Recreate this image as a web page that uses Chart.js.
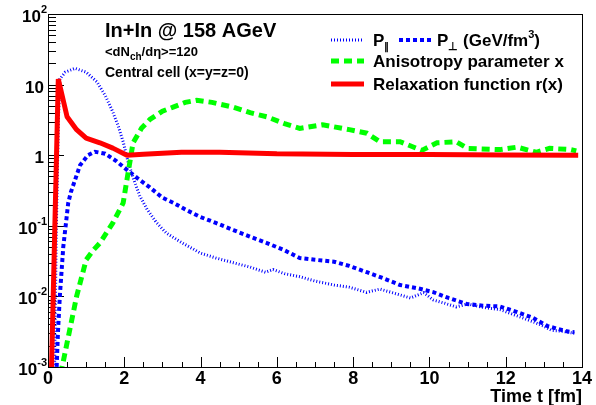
<!DOCTYPE html>
<html>
<head>
<meta charset="utf-8">
<script src="https://cdn.jsdelivr.net/npm/chart.js@4/dist/chart.umd.min.js"></script>
<style>
  html, body { margin: 0; padding: 0; background: #fff; }
  #wrap { width: 596px; height: 405px; }
</style>
</head>
<body>
<div id="wrap"><canvas id="chart" width="596" height="405"></canvas></div>
<script>
// ---- data (time t in fm) ----
const tPar = [0.17, 0.22, 0.27, 0.31, 0.45, 0.71, 1.0, 1.28, 1.5, 1.7, 1.85, 1.97, 2.1, 2.25, 2.4, 2.6, 2.85, 3.1, 3.5, 4.0, 4.4, 4.86, 5.3, 5.7, 5.9, 6.2, 6.6, 7.0, 7.5, 7.9, 8.35, 8.7, 9.1, 9.5, 9.85, 10.1, 10.4, 10.7, 11.0, 11.4, 11.85, 12.3, 12.7, 13.0, 13.2, 13.5, 13.8]
const pPar = [0.0008, 0.1, 3, 12, 15, 17, 15, 11, 7, 4.1, 2.5, 1.55, 0.8, 0.45, 0.27, 0.17, 0.11, 0.079, 0.058, 0.041, 0.035, 0.030, 0.026, 0.022, 0.024, 0.021, 0.019, 0.0165, 0.0145, 0.0135, 0.0114, 0.0127, 0.011, 0.0095, 0.0113, 0.0089, 0.008, 0.0071, 0.0078, 0.007, 0.0065, 0.0053, 0.0044, 0.0038, 0.0033, 0.0032, 0.0030]

const tPerp = [0.22, 0.26, 0.31, 0.4, 0.53, 0.6, 0.84, 1.05, 1.23, 1.5, 1.8, 2.07, 2.35, 2.67, 3.0, 3.3, 3.6, 4.0, 4.4, 4.86, 5.3, 5.74, 6.2, 6.6, 7.0, 7.5, 7.9, 8.36, 8.8, 9.23, 9.7, 10.1, 10.5, 10.98, 11.4, 11.85, 12.3, 12.7, 13.1, 13.6, 13.8]
const pPerp = [0.0008, 0.003, 0.01, 0.05, 0.21, 0.3, 0.72, 1.0, 1.12, 1.05, 0.82, 0.62, 0.47, 0.35, 0.25, 0.21, 0.17, 0.133, 0.11, 0.087, 0.07, 0.057, 0.045, 0.035, 0.033, 0.031, 0.027, 0.022, 0.018, 0.0145, 0.013, 0.0115, 0.0095, 0.0078, 0.0074, 0.0072, 0.006, 0.005, 0.0038, 0.0032, 0.0031]

const tAniso = [0.33, 0.4, 0.5, 0.75, 1.0, 1.2, 1.36, 1.7, 1.97, 2.07, 2.23, 2.45, 2.67, 3.0, 3.28, 3.6, 3.9, 4.3, 4.85, 5.3, 5.74, 6.2, 6.6, 7.2, 7.9, 8.36, 8.7, 9.23, 9.8, 10.2, 10.7, 11.0, 11.85, 12.3, 12.8, 13.15, 13.7, 13.85]
const aniso = [0.0008, 0.0012, 0.0022, 0.01, 0.033, 0.046, 0.057, 0.11, 0.21, 0.45, 1.5, 2.4, 3.2, 4.2, 4.8, 5.6, 6.0, 5.6, 4.8, 4.0, 3.5, 2.8, 2.4, 2.7, 2.3, 2.05, 1.55, 1.55, 1.17, 1.5, 1.55, 1.25, 1.2, 1.3, 1.1, 1.25, 1.2, 1.15]

const tRelax = [0.08, 0.27, 0.5, 0.75, 1.0, 1.36, 1.7, 2.07, 2.5, 3.5, 4.5, 6.0, 8.0, 10.0, 12.0, 13.9]
const relax = [0.0005, 12, 3.5, 2.3, 1.74, 1.5, 1.26, 1.0, 1.03, 1.1, 1.1, 1.05, 1.02, 1.02, 1.01, 1.0]

const xTicks = [0, 2, 4, 6, 8, 10, 12, 14]
const yDecades = [-3, -2, -1, 0, 1, 2]

const FONT = '"Liberation Sans", Arial, Helvetica, sans-serif'

const toPoints = (xs, ys) => xs.map((x, i) => ({ x: x, y: ys[i] }))

// ---- helper: text pieces with sub/superscripts ----
const drawRich = (ctx, x, y, parts) => {
  parts.forEach((p) => {
    ctx.font = 'bold ' + p.size + 'px ' + FONT
    ctx.fillText(p.text, x, y + (p.dy || 0))
    x += ctx.measureText(p.text).width
  })
  return x
}

/********** FRAME, TICKS, LABELS **********/
const rootStyle = {
  id: 'rootStyle',
  beforeDatasetsDraw: (chart) => {
    const ctx = chart.ctx
    const a = chart.chartArea
    const xs = chart.scales.x
    const ys = chart.scales.y
    ctx.save()
    ctx.strokeStyle = '#000'
    ctx.lineWidth = 1
    ctx.strokeRect(Math.round(a.left) + 0.5, Math.round(a.top) + 0.5, Math.round(a.right - a.left), Math.round(a.bottom - a.top))
    ctx.beginPath()
    for (let v = 0; v <= 14.001; v += 0.5) {
      const px = Math.round(xs.getPixelForValue(v)) + 0.5
      const len = (Math.abs(v % 2) < 0.01) ? 10 : 5
      ctx.moveTo(px, a.bottom)
      ctx.lineTo(px, a.bottom - len)
    }
    yDecades.forEach((d) => {
      for (let m = 1; m <= 9; m++) {
        const v = m * Math.pow(10, d)
        if (v > 100.001) continue
        const py = Math.round(ys.getPixelForValue(v)) + 0.5
        const len = m === 1 ? 16 : 8
        ctx.moveTo(a.left, py)
        ctx.lineTo(a.left + len, py)
      }
    })
    ctx.stroke()
    ctx.restore()
  },
  afterDraw: (chart) => {
    const ctx = chart.ctx
    const a = chart.chartArea
    const xs = chart.scales.x
    const ys = chart.scales.y
    ctx.save()
    ctx.fillStyle = '#000'
    ctx.textBaseline = 'alphabetic'

    // x tick labels
    ctx.font = 'bold 18px ' + FONT
    ctx.textAlign = 'center'
    xTicks.forEach((v) => {
      ctx.fillText(String(v), xs.getPixelForValue(v), 384)
    })
    ctx.textAlign = 'right'
    ctx.fillText('Time t [fm]', a.right, 402)

    // y tick labels
    ctx.textAlign = 'left'
    yDecades.forEach((d) => {
      const py = ys.getPixelForValue(Math.pow(10, d))
      const base = py + 8
      if (d === 0 || d === 1) {
        const txt = d === 0 ? '1' : '10'
        ctx.font = 'bold 17px ' + FONT
        ctx.fillText(txt, 44 - ctx.measureText(txt).width, base)
      } else {
        ctx.font = 'bold 11px ' + FONT
        const sup = String(d)
        const sw = ctx.measureText(sup).width
        ctx.font = 'bold 17px ' + FONT
        const mw = ctx.measureText('10').width
        drawRich(ctx, 47 - sw - mw, base, [
          { text: '10', size: 17 },
          { text: sup, size: 11, dy: -9 }
        ])
      }
    })

    // header text
    drawRich(ctx, 105, 37, [{ text: 'In+In @ 158 AGeV', size: 20 }])
    drawRich(ctx, 105, 56, [
      { text: '<dN', size: 13 },
      { text: 'ch', size: 10, dy: 4 },
      { text: '/d\u03b7>=120', size: 13 }
    ])
    drawRich(ctx, 105, 77, [{ text: 'Central cell (x=y=z=0)', size: 14 }])

    // legend
    const ds = chart.data.datasets
    const sample = (d, x0, x1, y) => {
      ctx.save()
      ctx.strokeStyle = d.borderColor
      ctx.lineWidth = d.borderWidth
      ctx.setLineDash(d.borderDash || [])
      ctx.beginPath()
      ctx.moveTo(x0, y)
      ctx.lineTo(x1, y)
      ctx.stroke()
      ctx.restore()
    }
    sample(ds[0], 331, 364, 40)
    drawRich(ctx, 373, 46, [
      { text: 'P', size: 17 },
      { text: '\u2225', size: 10, dy: 4 }
    ])
    sample(ds[1], 399, 433, 40)
    drawRich(ctx, 437, 46, [
      { text: 'P', size: 17 },
      { text: '\u22a5', size: 11, dy: 4 },
      { text: ' (GeV/fm', size: 17 },
      { text: '3', size: 11, dy: -8 },
      { text: ')', size: 17 }
    ])
    sample(ds[2], 331, 364, 61)
    drawRich(ctx, 373, 67, [{ text: 'Anisotropy parameter x', size: 17 }])
    sample(ds[3], 331, 364, 84)
    drawRich(ctx, 373, 90, [{ text: 'Relaxation function r(x)', size: 17 }])
    ctx.restore()
  }
}

const ctx = document.getElementById('chart')
new Chart(ctx, {
  type: 'line',
  data: {
    datasets: [
      { label: 'P_par', data: toPoints(tPar, pPar), borderColor: '#0000ff', borderWidth: 3, borderDash: [1, 2], order: 3 },
      { label: 'P_perp', data: toPoints(tPerp, pPerp), borderColor: '#0000ff', borderWidth: 4, borderDash: [4, 3], order: 2 },
      { label: 'Anisotropy parameter x', data: toPoints(tAniso, aniso), borderColor: '#00ff00', borderWidth: 5, borderDash: [8, 5], order: 1 },
      { label: 'Relaxation function r(x)', data: toPoints(tRelax, relax), borderColor: '#ff0000', borderWidth: 5, borderJoinStyle: 'bevel', order: 0 }
    ]
  },
  options: {
    responsive: false,
    animation: false,
    devicePixelRatio: 1,
    layout: { padding: { left: 48, right: 14, top: 14, bottom: 38 } },
    elements: { point: { radius: 0 }, line: { tension: 0, fill: false } },
    datasets: { line: { clip: 0 } },
    plugins: { legend: { display: false }, tooltip: { enabled: false } },
    scales: {
      x: { type: 'linear', min: 0, max: 14, display: false },
      y: { type: 'logarithmic', min: 0.001, max: 100, display: false }
    }
  },
  plugins: [rootStyle]
})
</script>
</body>
</html>
